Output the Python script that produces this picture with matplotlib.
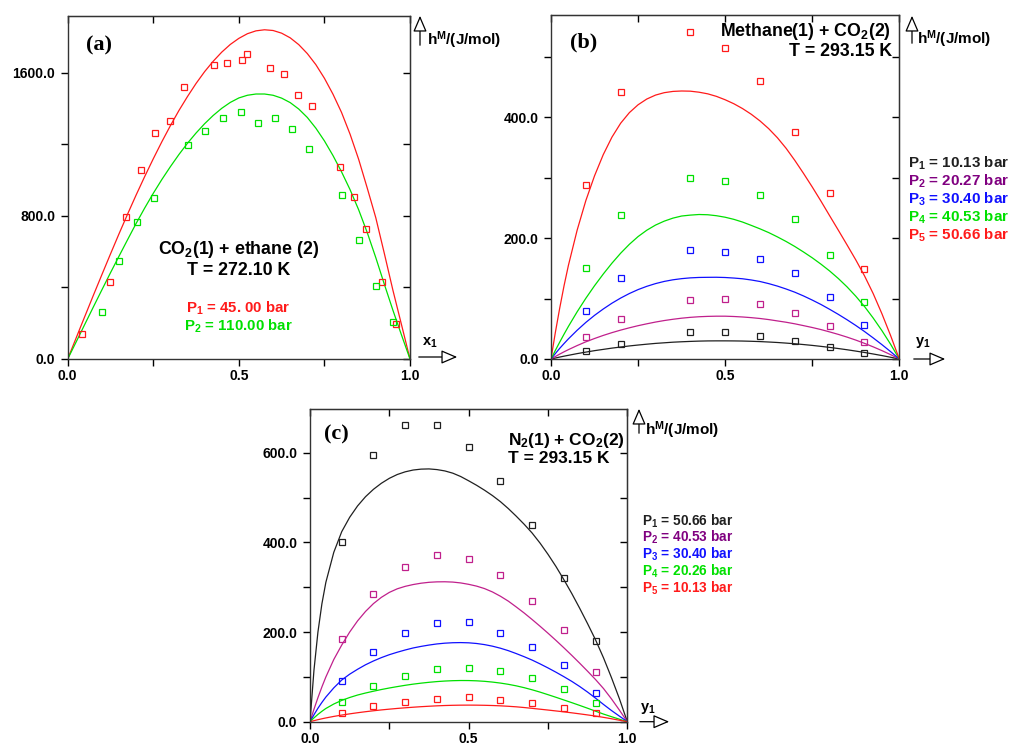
import matplotlib
matplotlib.use('Agg')
import matplotlib.pyplot as plt
from matplotlib.patches import FancyArrowPatch

plt.rcParams['font.family'] = ['Liberation Sans', 'DejaVu Sans']
plt.rcParams['font.weight'] = 'bold'
plt.rcParams['mathtext.default'] = 'regular'

RED = '#ff1a1a'
GREEN = '#00e000'
BLUE = '#1010ff'
MAGENTA = '#c0208c'
PURPLE = '#800080'
BLACK = '#202020'

# x grid of the fitted curves (mole fraction)
x_curve = [0, 0.0125, 0.025, 0.0375, 0.05, 0.075, 0.1, 0.125, 0.15, 0.175, 0.2,
           0.225, 0.25, 0.275, 0.3, 0.325, 0.35, 0.375, 0.4, 0.425, 0.45, 0.475,
           0.5, 0.525, 0.55, 0.575, 0.6, 0.625, 0.65, 0.675, 0.7, 0.725, 0.75,
           0.775, 0.8, 0.825, 0.85, 0.875, 0.9, 0.925, 0.95, 0.975, 1.0]

# ---- (a) CO2(1) + ethane(2), T = 272.10 K
a_red_x = [0.041, 0.125, 0.171, 0.213, 0.255, 0.299, 0.341, 0.426, 0.465, 0.508,
           0.525, 0.592, 0.633, 0.674, 0.714, 0.796, 0.837, 0.870, 0.919, 0.959]
a_red_h = [140, 430, 793, 1054, 1264, 1328, 1518, 1641, 1654, 1670,
           1702, 1626, 1594, 1475, 1415, 1074, 907, 726, 432, 197]
a_green_x = [0.099, 0.151, 0.202, 0.253, 0.352, 0.402, 0.454, 0.505,
             0.556, 0.606, 0.655, 0.706, 0.802, 0.851, 0.901, 0.950]
a_green_h = [260, 549, 763, 900, 1194, 1274, 1349, 1381,
             1319, 1345, 1286, 1174, 915, 667, 410, 207]
a_red_fit = [0, 59.6, 119, 179, 238, 356, 472, 587, 700, 810, 917,
             1020, 1119, 1214, 1304, 1389, 1467, 1540, 1606, 1664, 1715, 1758,
             1792, 1818, 1834, 1840, 1836, 1821, 1795, 1757, 1707, 1645, 1569,
             1480, 1378, 1256, 1116, 956, 790, 590, 385, 193, 0]
a_green_fit = [0, 48.1, 96.5, 145, 194, 291, 387, 482, 575, 667, 758,
               844, 926, 1003, 1075, 1143, 1206, 1263, 1315, 1361, 1401, 1434,
               1459, 1474, 1481, 1481, 1474, 1458, 1433, 1397, 1350, 1290, 1219,
               1137, 1046, 946, 834, 707, 567, 418, 273, 135, 0]

# ---- (b) Methane(1) + CO2(2), T = 293.15 K
b_x = [0.1, 0.2, 0.4, 0.5, 0.6, 0.7, 0.8, 0.9]
b_black = [13.2, 25.3, 44.1, 44.1, 38.0, 30.3, 20.4, 9.9]
b_magenta = [35.8, 66.1, 98.1, 99.2, 90.4, 76.0, 54.0, 28.7]
b_blue = [79.9, 133.3, 179.6, 176.3, 164.7, 142.7, 101.9, 55.6]
b_green = [151, 237.5, 299.7, 294.8, 270.5, 230.9, 171.3, 94.8]
b_red = [287.6, 441, 541.6, 514.6, 459.5, 374.7, 275, 148.8]
b_black_fit = [0, 1.6, 3.2, 4.7, 6.1, 8.9, 11.4, 13.8, 15.9, 18, 19.8,
               21.6, 23.1, 24.5, 25.8, 26.8, 27.8, 28.5, 29.1, 29.6, 29.9, 30.0,
               30.0, 29.9, 29.7, 29.3, 28.8, 28.1, 27.3, 26.3, 25.2, 23.9, 22.5,
               20.9, 19.2, 17.3, 15.3, 13.1, 10.8, 8.3, 5.7, 2.9, 0]
b_magenta_fit = [0, 4.1, 8.1, 11.9, 15.5, 22.2, 28.4, 33.9, 39, 43.6, 47.8,
                 51.6, 55.1, 58.2, 61.1, 63.6, 65.7, 67.5, 68.9, 69.9, 70.5, 70.8,
                 70.8, 70.3, 69.5, 68.4, 67, 65.2, 63, 60.8, 58.2, 55.2, 52.1,
                 48.7, 44.8, 40.7, 36.2, 31.3, 25.9, 20.1, 13.9, 7.2, 0]
b_blue_fit = [0, 9.0, 17.6, 25.6, 33.3, 47.5, 60.5, 72.2, 82.7, 92.3, 100.8,
              108.3, 114.8, 120.2, 124.7, 128.3, 131, 132.9, 134.2, 134.9, 135.1, 135.2,
              134.8, 133.9, 132.7, 130.7, 128.2, 124.7, 120.6, 115.8, 110.5, 104.3, 97.5,
              90.2, 82.2, 73.8, 64.9, 55.5, 45.5, 34.9, 23.8, 12.2, 0]
b_green_fit = [0, 14.2, 27.9, 41.1, 53.9, 78, 100.4, 121.2, 140.5, 158.5, 175,
               189.7, 202.5, 213, 221.5, 228, 233, 236.5, 238, 239, 238.6, 237,
               234.5, 231, 226.5, 221, 215.3, 209.1, 202, 194.4, 186.1, 177, 167.4,
               156.9, 145.6, 133.1, 119.3, 103.9, 86.9, 67.8, 47, 24.4, 0]
b_red_fit = [0, 43.9, 84.1, 121.3, 154.9, 213, 262, 303, 338, 367, 390,
             407.5, 420.5, 430, 436.5, 440.5, 442.6, 443.3, 443, 441.3, 438.6, 434.4,
             428.8, 422.2, 414.2, 404.8, 393.8, 381, 366, 348.5, 328.5, 307, 284.6,
             261.2, 237, 213, 188.7, 164, 137.7, 108.2, 75, 38.8, 0]
b_legend = [r'P$_1$ = 10.13 bar', r'P$_2$ = 20.27 bar', r'P$_3$ = 30.40 bar',
            r'P$_4$ = 40.53 bar', r'P$_5$ = 50.66 bar']

# ---- (c) N2(1) + CO2(2), T = 293.15 K
c_x = [0.1, 0.2, 0.3, 0.4, 0.5, 0.6, 0.7, 0.8, 0.9]
c_black = [402, 596, 663, 661.5, 612.6, 536.3, 438.5, 321.5, 179.3]
c_magenta = [185.2, 286, 346, 371, 363, 327.4, 269.6, 205.2, 111.9]
c_blue = [91, 155.6, 198.5, 220.7, 222.2, 197, 167.4, 127.4, 63]
c_green = [44.4, 80, 103, 118.5, 120.7, 114, 98.5, 74, 40.7]
c_red = [20, 34.8, 43, 49.6, 54, 48.9, 40.7, 30.4, 18.5]
c_black_fit = [0, 115, 200, 263, 311, 378, 424, 456, 481.5, 502, 518.5,
               532, 543, 551.5, 557.5, 561.5, 563.5, 564, 562.5, 559.5, 554.5, 547,
               537.5, 527.5, 516.5, 504.5, 491, 475.5, 458.5, 440.5, 421, 398.5, 373.5,
               346.5, 317, 286, 253, 218.5, 182.5, 142.5, 98.5, 51.5, 0]
c_magenta_fit = [0, 27.8, 53.6, 77.6, 99.8, 138.8, 171, 200, 225, 246, 263.5,
                 277.5, 288.5, 296.5, 302, 306, 309, 311, 312, 312.2, 311.5, 309.6,
                 306.5, 302.5, 297, 289.5, 280, 269, 256, 242.5, 228, 213, 197.5,
                 181.5, 165, 148, 130.5, 112.5, 94, 74, 51, 26, 0]
c_blue_fit = [0, 15.5, 30, 43, 55, 75.5, 93, 106, 117, 127, 135.5,
              143, 149.5, 155, 160, 164.5, 168, 171, 173.5, 175.2, 176.2, 176.5,
              176, 174.5, 172, 168.5, 164, 158.5, 152, 145, 137.5, 129, 120,
              110.5, 100.5, 90, 78.5, 66, 52.5, 38.5, 25, 12.5, 0]
c_green_fit = [0, 8.5, 16.3, 23.2, 29.5, 39.5, 47.5, 54, 59.5, 64, 68,
               71.8, 75.2, 78.3, 81.2, 83.8, 86, 87.9, 89.5, 90.7, 91.5, 91.9,
               91.8, 91.2, 90.1, 88.4, 86.2, 83.4, 80, 75.9, 71.2, 66, 60.3,
               54.5, 48.5, 42.5, 36.3, 30, 23.5, 17, 11.2, 5.6, 0]
c_red_fit = [0, 2.3, 4.5, 6.5, 8.4, 11.8, 14.8, 17.5, 20, 22.3, 24.4,
             26.3, 28, 29.6, 31, 32.3, 33.5, 34.5, 35.4, 36.1, 36.6, 36.9,
             37, 36.9, 36.6, 36.1, 35.4, 34.4, 33.2, 31.6, 29.8, 27.9, 26,
             24, 22, 19.8, 17.5, 15.1, 12.6, 9.7, 6.6, 3.3, 0]
c_legend = [r'P$_1$ = 50.66 bar', r'P$_2$ = 40.53 bar', r'P$_3$ = 30.40 bar',
            r'P$_4$ = 20.26 bar', r'P$_5$ = 10.13 bar']

W, H = 1009, 746
fig = plt.figure(figsize=(W / 100, H / 100), dpi=100)


def px_axes(left, top, right, bottom):
    return fig.add_axes([left / W, 1 - bottom / H, (right - left) / W, (bottom - top) / H])


def fxy(px, py):
    return (px / W, 1 - py / H)


def style(ax, ymax, ymajor, yminor):
    ax.set_xlim(0, 1)
    ax.set_ylim(0, ymax)
    ax.set_xticks([0, 0.5, 1.0])
    ax.set_xticks([0.25, 0.75], minor=True)
    ax.set_yticks(ymajor)
    ax.set_yticks(yminor, minor=True)
    ax.set_xticklabels(['0.0', '0.5', '1.0'])
    ax.set_yticklabels(['%.1f' % v for v in ymajor])
    ax.tick_params(which='both', direction='out', length=5, width=1, labelsize=10,
                   top=False, right=False)
    ax.tick_params(axis='y', pad=4)
    ax.tick_params(axis='x', pad=2.5)
    for lab in ax.get_xticklabels() + ax.get_yticklabels():
        lab.set_fontweight('bold')
    for s in ax.spines.values():
        s.set_linewidth(1.0)
        s.set_color('#333333')
    sx = ax.secondary_xaxis('top')
    sx.set_xticks([0, 0.5, 1.0])
    sx.set_xticks([0.25, 0.75], minor=True)
    sx.tick_params(which='both', direction='in', length=5, width=1, labeltop=False)
    sy = ax.secondary_yaxis('right')
    sy.set_yticks(ymajor)
    sy.set_yticks(yminor, minor=True)
    sy.tick_params(which='both', direction='in', length=5, width=1, labelright=False)


def squares(ax, x, y, c):
    ax.plot(x, y, ls='none', marker='s', ms=5, mfc='none', mec=c, mew=0.9, clip_on=False)


def arrows(hx, hy0, hy1, xx0, xx1, xy, xlabel, xlab_pos, hlab_pos):
    fig.patches.append(FancyArrowPatch(fxy(hx, hy0), fxy(hx, hy1), transform=fig.transFigure,
                                       arrowstyle='-|>,head_length=0.7,head_width=0.3',
                                       fc='white', ec='black', lw=0.9, mutation_scale=14))
    fig.patches.append(FancyArrowPatch(fxy(xx0, xy), fxy(xx1, xy), transform=fig.transFigure,
                                       arrowstyle='-|>,head_length=0.7,head_width=0.3',
                                       fc='white', ec='black', lw=0.9, mutation_scale=14))
    fig.text(*fxy(*hlab_pos), r'h$^{M}$/(J/mol)', fontsize=11, fontweight='bold',
             ha='left', va='center')
    fig.text(*fxy(*xlab_pos), xlabel, fontsize=10.5, fontweight='bold',
             ha='left', va='center')


# ---------------- panel (a)
ax = px_axes(67.7, 16, 410, 359)
style(ax, 1917, [0, 800, 1600], [400, 1200])
ax.plot(x_curve, a_red_fit, color=RED, lw=0.9)
ax.plot(x_curve, a_green_fit, color=GREEN, lw=0.9)
squares(ax, a_red_x, a_red_h, RED)
squares(ax, a_green_x, a_green_h, GREEN)
ax.text(0.09, 0.913, '(a)', transform=ax.transAxes, fontsize=16, fontweight='bold',
        family='Liberation Serif', ha='center', va='center')
ax.text(0.498, 0.318, r'CO$_2$(1) + ethane (2)', transform=ax.transAxes, fontsize=12.8,
        fontweight='bold', ha='center', va='center')
ax.text(0.498, 0.259, 'T = 272.10 K', transform=ax.transAxes, fontsize=12.8,
        fontweight='bold', ha='center', va='center')
ax.text(0.498, 0.148, r'P$_1$ = 45. 00 bar', transform=ax.transAxes, fontsize=10.8,
        fontweight='bold', color=RED, ha='center', va='center')
ax.text(0.498, 0.094, r'P$_2$ = 110.00 bar', transform=ax.transAxes, fontsize=10.8,
        fontweight='bold', color=GREEN, ha='center', va='center')
arrows(420, 48, 13, 416, 460, 357, r'x$_1$', (422, 343), (427, 40))

# ---------------- panel (b)
ax = px_axes(551, 15, 899.3, 359)
style(ax, 569, [0, 200, 400], [100, 300, 500])
b_sets = [(b_black, b_black_fit, BLACK), (b_magenta, b_magenta_fit, MAGENTA),
          (b_blue, b_blue_fit, BLUE), (b_green, b_green_fit, GREEN),
          (b_red, b_red_fit, RED)]
for pts, fit, c in b_sets:
    ax.plot(x_curve, fit, color=c, lw=0.9)
    squares(ax, b_x, pts, c)
ax.text(0.093, 0.921, '(b)', transform=ax.transAxes, fontsize=16, fontweight='bold',
        family='Liberation Serif', ha='center', va='center')
ax.text(0.975, 0.953, r'Methane(1) + CO$_2$(2)', transform=ax.transAxes, fontsize=12.8,
        fontweight='bold', ha='right', va='center')
ax.text(0.978, 0.893, 'T = 293.15 K', transform=ax.transAxes, fontsize=12.8,
        fontweight='bold', ha='right', va='center')
for i, (lab, c) in enumerate(zip(b_legend, [BLACK, PURPLE, BLUE, GREEN, RED])):
    fig.text(*fxy(907.7, 163.3 + 18 * i), lab, fontsize=10.9, fontweight='bold', color=c,
             ha='left', va='center')
arrows(912, 46, 13, 911, 948, 359, r'y$_1$', (915, 343), (917, 39))

# ---------------- panel (c)
ax = px_axes(310, 409.3, 627.3, 721.7)
style(ax, 697, [0, 200, 400, 600], [100, 300, 500])
c_sets = [(c_black, c_black_fit, BLACK), (c_magenta, c_magenta_fit, MAGENTA),
          (c_blue, c_blue_fit, BLUE), (c_green, c_green_fit, GREEN),
          (c_red, c_red_fit, RED)]
for pts, fit, c in c_sets:
    ax.plot(x_curve, fit, color=c, lw=0.9)
    squares(ax, c_x, pts, c)
ax.text(0.084, 0.92, '(c)', transform=ax.transAxes, fontsize=16, fontweight='bold',
        family='Liberation Serif', ha='center', va='center')
ax.text(0.625, 0.9, r'N$_2$(1) + CO$_2$(2)', transform=ax.transAxes, fontsize=12.5,
        fontweight='bold', ha='left', va='center')
ax.text(0.625, 0.841, 'T = 293.15 K', transform=ax.transAxes, fontsize=12.5,
        fontweight='bold', ha='left', va='center')
for i, (lab, c) in enumerate(zip(c_legend, [BLACK, PURPLE, BLUE, GREEN, RED])):
    fig.text(*fxy(641.7, 521 + 16.8 * i), lab, fontsize=9.8, fontweight='bold', color=c,
             ha='left', va='center')
arrows(639, 436, 406, 637, 672, 721.7, r'y$_1$', (640, 708), (645, 430))

fig.savefig('out.png', dpi=100)
